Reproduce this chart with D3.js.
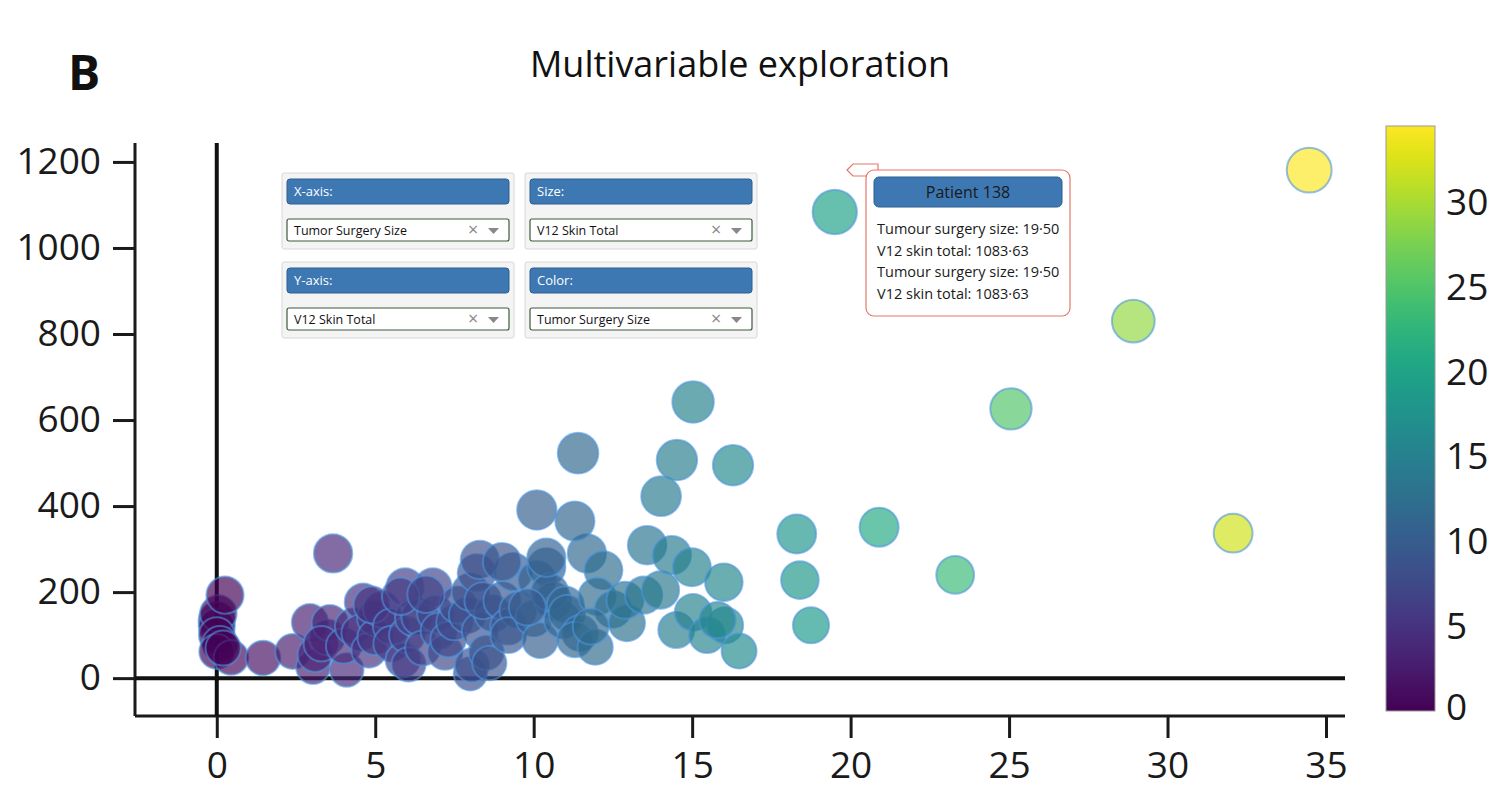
<!DOCTYPE html>
<html>
<head>
<meta charset="utf-8">
<script src="https://cdn.jsdelivr.net/npm/d3@7"></script>
<style>
    body { margin: 0; background: #fff; }
    svg { display: block; font-family: "Open Sans", sans-serif; }
</style>
</head>
<body>
<svg id="chart" width="1503" height="805"></svg>
<script>
// tumour surgery size (x) and V12 skin total (y), one entry per patient
const tumourSize = [
    0.00, 0.00, 0.05, 0.00, 0.10, 0.00, 0.26, 0.45, 0.20,
    1.46, 2.40, 2.94, 3.04, 3.10, 3.48, 3.57, 3.30,
    3.67, 4.10, 4.00, 4.30, 4.62, 4.50, 4.80, 5.00, 5.00, 5.20, 4.90,
    5.50, 5.50, 5.94, 5.87, 6.00, 6.05, 6.20, 6.40, 6.50, 6.82, 6.90, 7.00, 7.20,
    7.30, 7.50, 7.60, 7.90, 8.00, 8.05, 8.00, 8.20, 8.30, 8.50, 8.70, 8.40, 8.60,
    9.00, 9.20, 9.35, 9.50, 9.20, 10.00, 10.10, 10.40, 10.20, 10.60, 10.90, 10.10, 10.50, 9.80,
    11.00, 11.05, 11.46, 11.30, 11.68, 11.30, 11.40, 11.94, 12.20, 12.00, 12.50, 12.94, 12.88, 11.80,
    13.47, 13.58, 14.00, 14.02, 14.36, 14.50, 14.52, 14.99, 15.03, 15.03, 15.47, 16.00, 16.04, 16.29, 16.48, 15.80,
    8.30, 9.00, 10.40, 5.80, 6.60,
    18.30, 18.40, 18.75, 19.50, 20.90, 23.30, 25.06, 28.92, 32.07, 34.47
];
const skinTotal = [
    135, 120, 150, 100, 80, 62, 193, 48, 70,
    47, 62, 130, 26, 55, 95, 128, 80,
    290, 19, 75, 120, 177, 105, 65, 140, 95, 160, 170,
    120, 80, 212, 42, 100, 32, 140, 142, 70, 212, 150, 110, 60,
    90, 130, 170, 147, 10, 30, 200, 244, 110, 60, 150, 180, 35,
    180, 120, 247, 158, 100, 140, 228, 258, 88, 180, 135, 391, 200, 165,
    170, 151, 105, 90, 290, 365, 523, 72, 251, 190, 160, 128, 181, 120,
    193, 309, 205, 423, 286, 112, 507, 258, 642, 153, 100, 223, 123, 495, 63, 135,
    275, 270, 280, 190, 195,
    335, 228, 123, 1083.63, 351, 240, 626, 830, 337, 1181
];

const xTicks = [0, 5, 10, 15, 20, 25, 30, 35];
const yTicks = [0, 200, 400, 600, 800, 1000, 1200];
const colorTicks = [0, 5, 10, 15, 20, 25, 30];

const controls = [
    { title: 'X-axis:', value: 'Tumor Surgery Size' },
    { title: 'Size:', value: 'V12 Skin Total' },
    { title: 'Y-axis:', value: 'V12 Skin Total' },
    { title: 'Color:', value: 'Tumor Surgery Size' }
];
const tooltipTitle = 'Patient 138';
const tooltipLines = [
    'Tumour surgery size: 19·50',
    'V12 skin total: 1083·63',
    'Tumour surgery size: 19·50',
    'V12 skin total: 1083·63'
];

const points = tumourSize.map((x, i) => ({ x, y: skinTotal[i] }));
const svg = d3.select('#chart');

const plot = { left: 135, right: 1345, top: 143, bottom: 716 };
const x = d3.scaleLinear().domain([-2.58, 35.6]).range([plot.left, plot.right]);
const y = d3.scaleLinear().domain([-88, 1244]).range([plot.bottom, plot.top]);
const maxSize = d3.max(tumourSize);
const color = d3.scaleSequential(d3.interpolateViridis).domain([0, maxSize]);
const r = d3.scaleSqrt().domain([0, 1200]).range([16, 22.5]);

// titles
svg.append('text')
    .attr('x', 68).attr('y', 90)
    .attr('font-size', 48).attr('font-weight', 'bold').attr('fill', '#111')
    .text('B');
svg.append('text')
    .attr('x', 740).attr('y', 77)
    .attr('text-anchor', 'middle')
    .attr('font-size', 36).attr('fill', '#111')
    .text('Multivariable exploration');

// axes
const axisColor = '#1a1a1a';
const xAxis = svg.append('g')
    .attr('transform', `translate(0,${plot.bottom})`)
    .call(d3.axisBottom(x).tickValues(xTicks).tickSize(22).tickPadding(14).tickSizeOuter(0));
const yAxis = svg.append('g')
    .attr('transform', `translate(${plot.left},0)`)
    .call(d3.axisLeft(y).tickValues(yTicks).tickFormat(d3.format('d'))
        .tickSize(22).tickPadding(12).tickSizeOuter(0));
[xAxis, yAxis].forEach(g => {
    g.select('.domain').attr('stroke', axisColor).attr('stroke-width', 3);
    g.selectAll('.tick line').attr('stroke', axisColor).attr('stroke-width', 3);
    g.selectAll('.tick text')
        .attr('font-family', '"Open Sans", sans-serif')
        .attr('font-size', 37).attr('fill', '#1a1a1a');
});
xAxis.select('.domain').attr('d', `M${plot.left},0H${plot.right}`);
yAxis.select('.domain').attr('d', `M0,${plot.top}V${plot.bottom}`);

// zero lines
svg.append('line')
    .attr('x1', x(0)).attr('x2', x(0))
    .attr('y1', plot.top).attr('y2', plot.bottom)
    .attr('stroke', '#111').attr('stroke-width', 4);
svg.append('line')
    .attr('x1', plot.left).attr('x2', plot.right)
    .attr('y1', y(0)).attr('y2', y(0))
    .attr('stroke', '#111').attr('stroke-width', 4);

// points
svg.append('g')
    .selectAll('circle')
    .data(points)
    .join('circle')
    .attr('cx', d => x(d.x))
    .attr('cy', d => y(d.y))
    .attr('r', d => r(d.y))
    .attr('fill', d => color(d.x))
    .attr('fill-opacity', 0.68)
    .attr('stroke', '#4d94dc')
    .attr('stroke-opacity', 0.6)
    .attr('stroke-width', 2);

// colour bar
const bar = { x: 1386, w: 49, top: 126, bottom: 711 };
const cScale = d3.scaleLinear().domain([0, maxSize]).range([bar.bottom, bar.top]);
const grad = svg.append('defs').append('linearGradient')
    .attr('id', 'viridis').attr('x1', 0).attr('x2', 0).attr('y1', 1).attr('y2', 0);
d3.range(0, 1.001, 0.05).forEach(t => {
    grad.append('stop').attr('offset', t).attr('stop-color', d3.interpolateViridis(t));
});
svg.append('rect')
    .attr('x', bar.x).attr('y', bar.top)
    .attr('width', bar.w).attr('height', bar.bottom - bar.top)
    .attr('fill', 'url(#viridis)')
    .attr('stroke', '#9a9a9a').attr('stroke-width', 1);
svg.append('g')
    .selectAll('text')
    .data(colorTicks)
    .join('text')
    .attr('x', 1446)
    .attr('y', d => Math.min(cScale(d), 707))
    .attr('dy', '0.35em')
    .attr('font-size', 37).attr('fill', '#1a1a1a')
    .text(d => d);

// control panels
const panelW = 232, panelH = 76;
const panelPos = [[282, 173], [525, 173], [282, 262], [525, 262]];
const panels = svg.append('g')
    .selectAll('g')
    .data(controls)
    .join('g')
    .attr('transform', (d, i) => `translate(${panelPos[i][0]},${panelPos[i][1]})`);
panels.append('rect')
    .attr('width', panelW).attr('height', panelH).attr('rx', 2)
    .attr('fill', '#f4f4f5').attr('stroke', '#d8d8d8');
panels.append('rect')
    .attr('x', 5).attr('y', 6).attr('width', panelW - 10).attr('height', 25).attr('rx', 3)
    .attr('fill', '#3d78b3').attr('stroke', '#2d5f90');
panels.append('text')
    .attr('x', 12).attr('y', 23)
    .attr('font-size', 13).attr('fill', '#fff')
    .text(d => d.title);
panels.append('rect')
    .attr('x', 5).attr('y', 46).attr('width', panelW - 10).attr('height', 22).attr('rx', 2)
    .attr('fill', '#fff').attr('stroke', '#3d5b3a').attr('stroke-width', 1.2);
panels.append('text')
    .attr('x', 12).attr('y', 62)
    .attr('font-size', 12.5).attr('fill', '#111')
    .text(d => d.value);
panels.append('text')
    .attr('x', panelW - 46).attr('y', 63)
    .attr('font-size', 18).attr('fill', '#8a8a8a')
    .text('×');
panels.append('path')
    .attr('d', `M${panelW - 26},55h11l-5.5,6z`)
    .attr('fill', '#888');

// tooltip
const tip = svg.append('g').attr('transform', 'translate(866,170)');
tip.append('path')
    .attr('d', 'M-19,0L-13,-6H12V6H-13Z')
    .attr('fill', '#fff').attr('stroke', '#e4776b').attr('stroke-width', 1.2);
tip.append('rect')
    .attr('width', 204).attr('height', 146).attr('rx', 8)
    .attr('fill', '#fff').attr('stroke', '#e4776b').attr('stroke-width', 1.2);
tip.append('rect')
    .attr('x', 8).attr('y', 7).attr('width', 188).attr('height', 30).attr('rx', 5)
    .attr('fill', '#3d78b3').attr('stroke', '#2d5f90');
tip.append('text')
    .attr('x', 102).attr('y', 28)
    .attr('text-anchor', 'middle')
    .attr('font-size', 16).attr('fill', '#1a1a1a')
    .text(tooltipTitle);
tip.append('g')
    .selectAll('text')
    .data(tooltipLines)
    .join('text')
    .attr('x', 11)
    .attr('y', (d, i) => 64 + i * 21.5)
    .attr('font-size', 14.5).attr('fill', '#1a1a1a')
    .text(d => d);
</script>
</body>
</html>
